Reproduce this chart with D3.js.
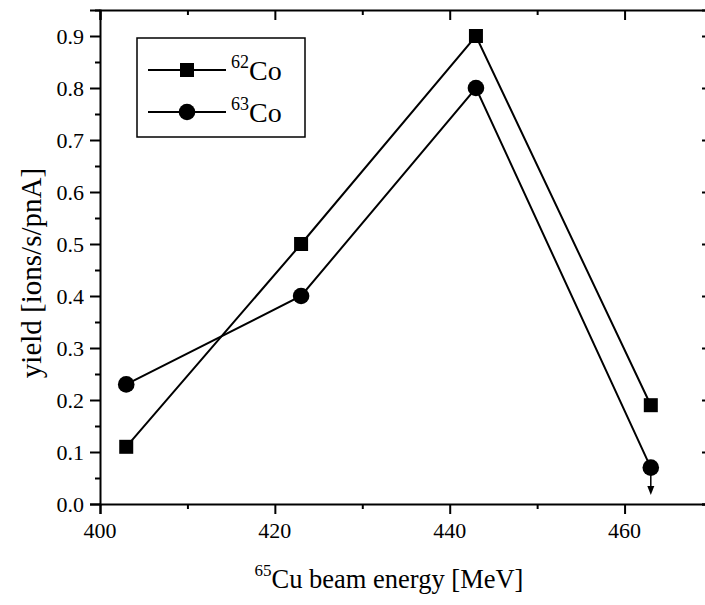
<!DOCTYPE html>
<html lang="en">
  <head>
    <meta charset="UTF-8" />
    <script src="https://d3js.org/d3.v7.min.js"></script>
    <title>Co yield</title>
    <style>
      body { margin: 0; background: #fff; }
    </style>
  </head>
  <body>
    <svg id="chart" width="705" height="605"></svg>
    <script>
      // beam energies [MeV]
      const energies = [403, 423, 443, 463];
      // yields [ions/s/pnA]
      const co62 = [0.11, 0.5, 0.9, 0.19];
      const co63 = [0.23, 0.4, 0.8, 0.07];
      const xTicks = [400, 420, 440, 460];
      const yTicks = [0.0, 0.1, 0.2, 0.3, 0.4, 0.5, 0.6, 0.7, 0.8, 0.9];

      const FONT = "Liberation Serif, DejaVu Serif, serif";
      const svg = d3.select("#chart");
      const plotL = 100, plotR = 712, plotT = 10, plotB = 504;

      const x = d3.scaleLinear().domain([400, 470]).range([plotL, plotR]);
      const y = d3.scaleLinear().domain([0, 0.95]).range([plotB, plotT]);

      const fmtY = d3.format(".1f");

      // frame axes
      const axBottom = svg.append("g").attr("transform", `translate(0,${plotB})`)
        .call(d3.axisBottom(x).tickValues(d3.range(400, 471, 10)).tickSize(10).tickFormat(""));
      const axTop = svg.append("g").attr("transform", `translate(0,${plotT})`)
        .call(d3.axisBottom(x).tickValues(d3.range(400, 471, 10)).tickSize(10).tickFormat(""));
      const axLeft = svg.append("g").attr("transform", `translate(${plotL},0)`)
        .call(d3.axisLeft(y).tickValues(d3.range(0, 0.951, 0.05)).tickSize(10).tickFormat(""));
      const axRight = svg.append("g").attr("transform", `translate(${plotR},0)`)
        .call(d3.axisLeft(y).tickValues(d3.range(0, 0.951, 0.05)).tickSize(10).tickFormat(""));

      [axBottom, axTop, axLeft, axRight].forEach((g) => {
        g.select(".domain").attr("stroke", "#000").attr("stroke-width", 2);
        g.selectAll(".tick line").attr("stroke", "#000").attr("stroke-width", 2);
      });
      // minor ticks are shorter
      [axBottom, axTop].forEach((g) => {
        g.selectAll(".tick").filter((d) => Math.round(d) % 20 !== 0)
          .select("line").attr("y2", 5);
      });
      [axLeft, axRight].forEach((g) => {
        g.selectAll(".tick").filter((d) => Math.round(d * 100) % 10 !== 0)
          .select("line").attr("x2", -5);
      });

      // tick labels
      svg.append("g").selectAll("text").data(xTicks).join("text")
        .style("font-family", FONT).style("font-size", "22px")
        .attr("x", (d) => x(d)).attr("y", plotB + 34)
        .attr("text-anchor", "middle").text((d) => d);
      svg.append("g").selectAll("text").data(yTicks).join("text")
        .style("font-family", FONT).style("font-size", "22px")
        .attr("x", plotL - 16).attr("y", (d) => y(d) + 8)
        .attr("text-anchor", "end").text((d) => fmtY(d));

      // axis titles
      const xt = svg.append("text")
        .style("font-family", FONT).style("font-size", "26.5px")
        .attr("x", 389).attr("y", 588).attr("text-anchor", "middle");
      xt.append("tspan").style("font-size", "17px").attr("dy", -12).text("65");
      xt.append("tspan").attr("dy", 12).text("Cu beam energy [MeV]");

      svg.append("text")
        .style("font-family", FONT).style("font-size", "29px")
        .attr("transform", "translate(41,273) rotate(-90)")
        .attr("text-anchor", "middle").text("yield [ions/s/pnA]");

      const line = d3.line().x((d, i) => x(energies[i])).y((d) => y(d));
      [co62, co63].forEach((s) => {
        svg.append("path").datum(s).attr("d", line)
          .attr("fill", "none").attr("stroke", "#000").attr("stroke-width", 2);
      });

      // upper-limit arrow on last 63Co point
      const ax = x(energies[3]);
      svg.append("line").attr("x1", ax).attr("x2", ax)
        .attr("y1", y(co63[3])).attr("y2", plotB - 16)
        .attr("stroke", "#000").attr("stroke-width", 1.5);
      svg.append("path")
        .attr("d", `M${ax - 3.5},${plotB - 18} L${ax + 3.5},${plotB - 18} L${ax},${plotB - 9} Z`)
        .attr("fill", "#000");

      svg.append("g").selectAll("rect").data(co62).join("rect")
        .attr("x", (d, i) => x(energies[i]) - 7).attr("y", (d) => y(d) - 7)
        .attr("width", 14).attr("height", 14).attr("fill", "#000");
      svg.append("g").selectAll("circle").data(co63).join("circle")
        .attr("cx", (d, i) => x(energies[i])).attr("cy", (d) => y(d))
        .attr("r", 8.3).attr("fill", "#000");

      // legend
      const lg = svg.append("g");
      lg.append("rect").attr("x", 137).attr("y", 38).attr("width", 168).attr("height", 99)
        .attr("fill", "#fff").attr("stroke", "#000").attr("stroke-width", 1.5);
      const legendItems = [
        { mass: "62", cy: 70, shape: "square" },
        { mass: "63", cy: 112, shape: "circle" },
      ];
      legendItems.forEach((it) => {
        lg.append("line").attr("x1", 148).attr("x2", 226).attr("y1", it.cy).attr("y2", it.cy)
          .attr("stroke", "#000").attr("stroke-width", 2);
        if (it.shape === "square") {
          lg.append("rect").attr("x", 187 - 7).attr("y", it.cy - 7).attr("width", 14).attr("height", 14).attr("fill", "#000");
        } else {
          lg.append("circle").attr("cx", 187).attr("cy", it.cy).attr("r", 8.3).attr("fill", "#000");
        }
        const t = lg.append("text").style("font-family", FONT).style("font-size", "28px")
          .attr("x", 231).attr("y", it.cy + 10);
        t.append("tspan").style("font-size", "18px").attr("dy", -12).text(it.mass);
        t.append("tspan").attr("dy", 12).text("Co");
      });
    </script>
  </body>
</html>
